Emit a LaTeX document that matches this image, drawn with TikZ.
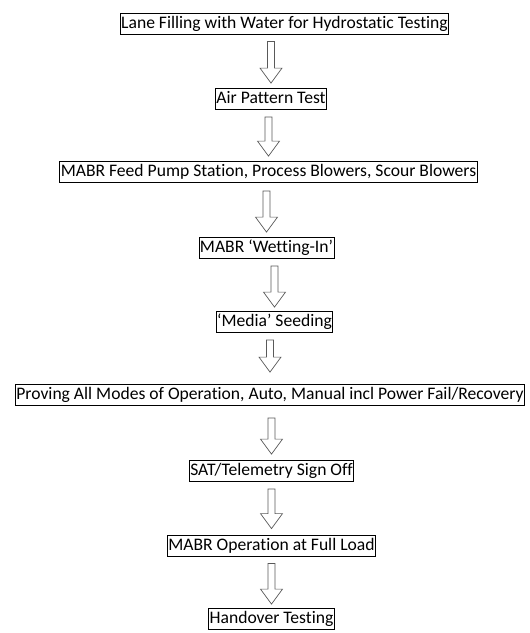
\documentclass[tikz,border=0pt]{standalone}
\usepackage{fontspec}
\setmainfont{Carlito}[Ligatures=NoCommon]
\usetikzlibrary{calc}

\tikzset{
  stage/.style={draw,rectangle,line width=.8pt,inner xsep=1pt,inner ysep=2pt,
    text height=13pt,text depth=4pt,font=\fontsize{17.6}{19}\selectfont},
  hollow/.style={draw=black!65,line width=.7pt,fill=white,
    to path={let \p1=(\tikztostart),\p2=(\tikztotarget) in
      (\x2-3.5pt,\y1) -- (\x2-3.5pt,\y2+15pt) -- (\x2-11pt,\y2+15pt) -- (\x2,\y2)
      -- (\x2+11pt,\y2+15pt) -- (\x2+3.5pt,\y2+15pt) -- (\x2+3.5pt,\y1) -- cycle}}
}

\begin{document}
\begin{tikzpicture}[x=1pt,y=-1pt]
\useasboundingbox (0,0) rectangle (530,633);

\node[stage] (s1) at (284.5,23.5) {Lane Filling with Water for Hydrostatic Testing};
\node[stage] (s2) at (271,99) {Air Pattern Test};
\node[stage] (s3) at (268.5,172) {MABR Feed Pump Station, Process Blowers, Scour Blowers};
\node[stage] (s4) at (266.5,248) {MABR ‘Wetting-In’};
\node[stage] (s5) at (274.5,322) {‘Media’ Seeding};
\node[stage] (s6) at (270,395) {Proving All Modes of Operation, Auto, Manual incl Power Fail/Recovery};
\node[stage] (s7) at (271.5,471) {SAT/Telemetry Sign Off};
\node[stage] (s8) at (271.5,545.5) {MABR Operation at Full Load};
\node[stage] (s9) at (271.5,619) {Handover Testing};

\draw[hollow] ([yshift=-7pt]s1.south) to ([yshift=5pt]s2.north);
\draw[hollow] ([yshift=-7pt]s2.south) to ([yshift=5pt]s3.north);
\draw[hollow] ([yshift=-8pt]s3.south) to ([yshift=5pt]s4.north);
\draw[hollow] ([yshift=-7pt]s4.south) to ([yshift=4pt]s5.north);
\draw[hollow] ([yshift=-7pt]s5.south) to ([yshift=12pt]s6.north);
\draw[hollow] ([yshift=-12pt]s6.south) to ([yshift=6pt]s7.north);
\draw[hollow] ([yshift=-7pt]s7.south) to ([yshift=6pt]s8.north);
\draw[hollow] ([yshift=-7pt]s8.south) to ([yshift=4pt]s9.north);

\end{tikzpicture}
\end{document}
